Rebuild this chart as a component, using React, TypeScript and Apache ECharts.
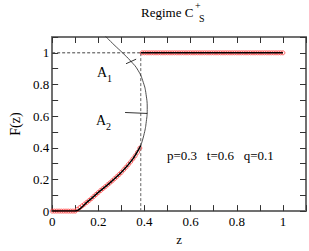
import React, { useEffect, useRef } from "react";
import * as echarts from "echarts";

// Thick branch of F(z): zero up to z=0.1, then rising to the dashed line
const curveZ = [0, 0.1, 0.15, 0.2, 0.25, 0.3, 0.35, 0.384];
const curveF = [0, 0, 0.055, 0.118, 0.178, 0.245, 0.33, 0.413];

// Flat branch F=1
const flatZ = [0.384, 1.0];
const flatF = [1, 1];

// Thin continuation (unstable branch)
const thinZ = [0.384, 0.399, 0.408, 0.412, 0.407, 0.395, 0.372, 0.341, 0.305, 0.268, 0.228];
const thinF = [0.413, 0.49, 0.566, 0.642, 0.737, 0.813, 0.89, 0.947, 1.0, 1.051, 1.109];

// Red marker samples
const markZ = [
  0, 0.01, 0.02, 0.03, 0.04, 0.05, 0.06, 0.07, 0.08, 0.09, 0.1, 0.11, 0.12, 0.13, 0.14, 0.15,
  0.16, 0.17, 0.18, 0.19, 0.2, 0.21, 0.22, 0.23, 0.24, 0.25, 0.26, 0.27, 0.28, 0.29, 0.3, 0.31,
  0.32, 0.33, 0.34, 0.35, 0.36, 0.37, 0.38,
];
const markF = [
  0, 0, 0, 0, 0, 0, 0, 0, 0, 0, 0, 0.011, 0.022, 0.033, 0.044, 0.055,
  0.067, 0.079, 0.092, 0.105, 0.118, 0.13, 0.142, 0.154, 0.166, 0.178, 0.191, 0.204, 0.217, 0.231, 0.245, 0.261,
  0.277, 0.294, 0.311, 0.33, 0.35, 0.372, 0.398,
];
const markFlatZ = [
  0.39, 0.4, 0.41, 0.42, 0.43, 0.44, 0.45, 0.46, 0.47, 0.48, 0.49, 0.5, 0.51, 0.52, 0.53, 0.54,
  0.55, 0.56, 0.57, 0.58, 0.59, 0.6, 0.61, 0.62, 0.63, 0.64, 0.65, 0.66, 0.67, 0.68, 0.69, 0.7,
  0.71, 0.72, 0.73, 0.74, 0.75, 0.76, 0.77, 0.78, 0.79, 0.8, 0.81, 0.82, 0.83, 0.84, 0.85, 0.86,
  0.87, 0.88, 0.89, 0.9, 0.91, 0.92, 0.93, 0.94, 0.95, 0.96, 0.97, 0.98, 0.99, 1.0,
];
const markFlatF = markFlatZ.map(() => 1);

// Guide lines
const hGuideZ = [0, 0.384];
const hGuideF = [1, 1];
const vGuideZ = [0.384, 0.384];
const vGuideF = [0, 1];

// Leader lines for the A1 / A2 labels
const a1Z = [0.32, 0.364];
const a1F = [0.931, 0.96];
const a2Z = [0.316, 0.412];
const a2F = [0.623, 0.617];

const xTickLabels = [0, 0.2, 0.4, 0.6, 0.8, 1];
const yTickLabels = [0, 0.2, 0.4, 0.6, 0.8, 1];

const zip = (a: number[], b: number[]) => a.map((v, i) => [v, b[i]]);

const FONT = "'Liberation Serif', 'Times New Roman', serif";
const AXIS_COLOR = "#707070";

const fmt = (ticks: number[]) => (v: number) => {
  const hit = ticks.find((t) => Math.abs(t - v) < 1e-6);
  return hit === undefined ? "" : String(hit);
};

export default function App() {
  const ref = useRef<HTMLDivElement>(null);
  useEffect(() => {
    if (!ref.current) return;
    const chart = echarts.init(ref.current, undefined, { renderer: "svg" });
    const axisCommon = {
      type: "value" as const,
      min: 0,
      max: 1.1,
      interval: 0.1,
      axisLine: { show: true, onZero: false, lineStyle: { color: AXIS_COLOR, width: 2 } },
      axisTick: { show: true, inside: true, length: 6, lineStyle: { color: "#333", width: 1 } },
      splitLine: { show: false },
    };
    chart.setOption({
      animation: false,
      grid: { left: 33, right: 2, top: 37, bottom: 22, containLabel: false },
      xAxis: [
        {
          ...axisCommon,
          position: "bottom",
          name: "z",
          nameLocation: "middle",
          nameGap: 15,
          nameTextStyle: { fontFamily: FONT, fontSize: 13, color: "#000" },
          axisLabel: { formatter: fmt(xTickLabels), fontFamily: FONT, fontSize: 13, color: "#000", margin: 4 },
        },
        {
          ...axisCommon,
          position: "top",
          axisLabel: { show: false },
        },
      ],
      yAxis: [
        {
          ...axisCommon,
          position: "left",
          name: "F(z)",
          nameLocation: "middle",
          nameGap: 22,
          nameRotate: 90,
          nameTextStyle: { fontFamily: FONT, fontSize: 14, color: "#000" },
          axisLabel: { formatter: fmt(yTickLabels), fontFamily: FONT, fontSize: 13, color: "#000", margin: 3 },
        },
        {
          ...axisCommon,
          position: "right",
          axisLabel: { show: false },
        },
      ],
      series: [
        {
          type: "line",
          data: zip(hGuideZ, hGuideF),
          showSymbol: false,
          lineStyle: { color: "#444", width: 1, type: [3, 2] },
          z: 1,
        },
        {
          type: "line",
          data: zip(vGuideZ, vGuideF),
          showSymbol: false,
          lineStyle: { color: "#666", width: 1, type: [3, 2] },
          z: 1,
        },
        {
          type: "scatter",
          data: zip(markZ, markF).concat(zip(markFlatZ, markFlatF)),
          symbol: "circle",
          symbolSize: 4,
          itemStyle: { color: "rgba(0,0,0,0)", borderColor: "#ff4040", borderWidth: 1, opacity: 0.8 },
          z: 2,
        },
        {
          type: "line",
          data: zip(thinZ, thinF),
          smooth: true,
          showSymbol: false,
          lineStyle: { color: "#222", width: 0.8 },
          z: 3,
        },
        {
          type: "line",
          data: zip(curveZ, curveF),
          smooth: 0.3,
          showSymbol: false,
          lineStyle: { color: "#000", width: 1.5 },
          z: 4,
        },
        {
          type: "line",
          data: zip(flatZ, flatF),
          showSymbol: false,
          lineStyle: { color: "#000", width: 1.5 },
          z: 4,
        },
        {
          type: "line",
          data: zip(a1Z, a1F),
          showSymbol: false,
          lineStyle: { color: "#000", width: 0.8 },
          z: 5,
        },
        {
          type: "line",
          data: zip(a2Z, a2F),
          showSymbol: false,
          lineStyle: { color: "#000", width: 0.8 },
          z: 5,
        },
      ],
      graphic: [
        { type: "text", x: 141, y: 12, style: { text: "Regime C", fontFamily: FONT, fontSize: 13, fill: "#000", align: "left", verticalAlign: "middle" } },
        { type: "text", x: 195, y: 5, style: { text: "+", fontFamily: FONT, fontSize: 10, fill: "#000", align: "left", verticalAlign: "middle" } },
        { type: "text", x: 199, y: 18, style: { text: "S", fontFamily: FONT, fontSize: 10, fill: "#000", align: "left", verticalAlign: "middle" } },
        { type: "text", x: 97, y: 72, style: { text: "A", fontFamily: FONT, fontSize: 14, fill: "#000", align: "left", verticalAlign: "middle" } },
        { type: "text", x: 107, y: 78, style: { text: "1", fontFamily: FONT, fontSize: 10, fill: "#000", align: "left", verticalAlign: "middle" } },
        { type: "text", x: 96, y: 120, style: { text: "A", fontFamily: FONT, fontSize: 14, fill: "#000", align: "left", verticalAlign: "middle" } },
        { type: "text", x: 106, y: 126, style: { text: "2", fontFamily: FONT, fontSize: 10, fill: "#000", align: "left", verticalAlign: "middle" } },
        { type: "text", x: 167, y: 155, style: { text: "p=0.3   t=0.6   q=0.1", fontFamily: FONT, fontSize: 13, fill: "#000", align: "left", verticalAlign: "middle" } },
      ],
    });
    return () => chart.dispose();
  }, []);
  return <div ref={ref} style={{ width: 309, height: 251, position: "absolute", left: 0, top: 0 }} />;
}
